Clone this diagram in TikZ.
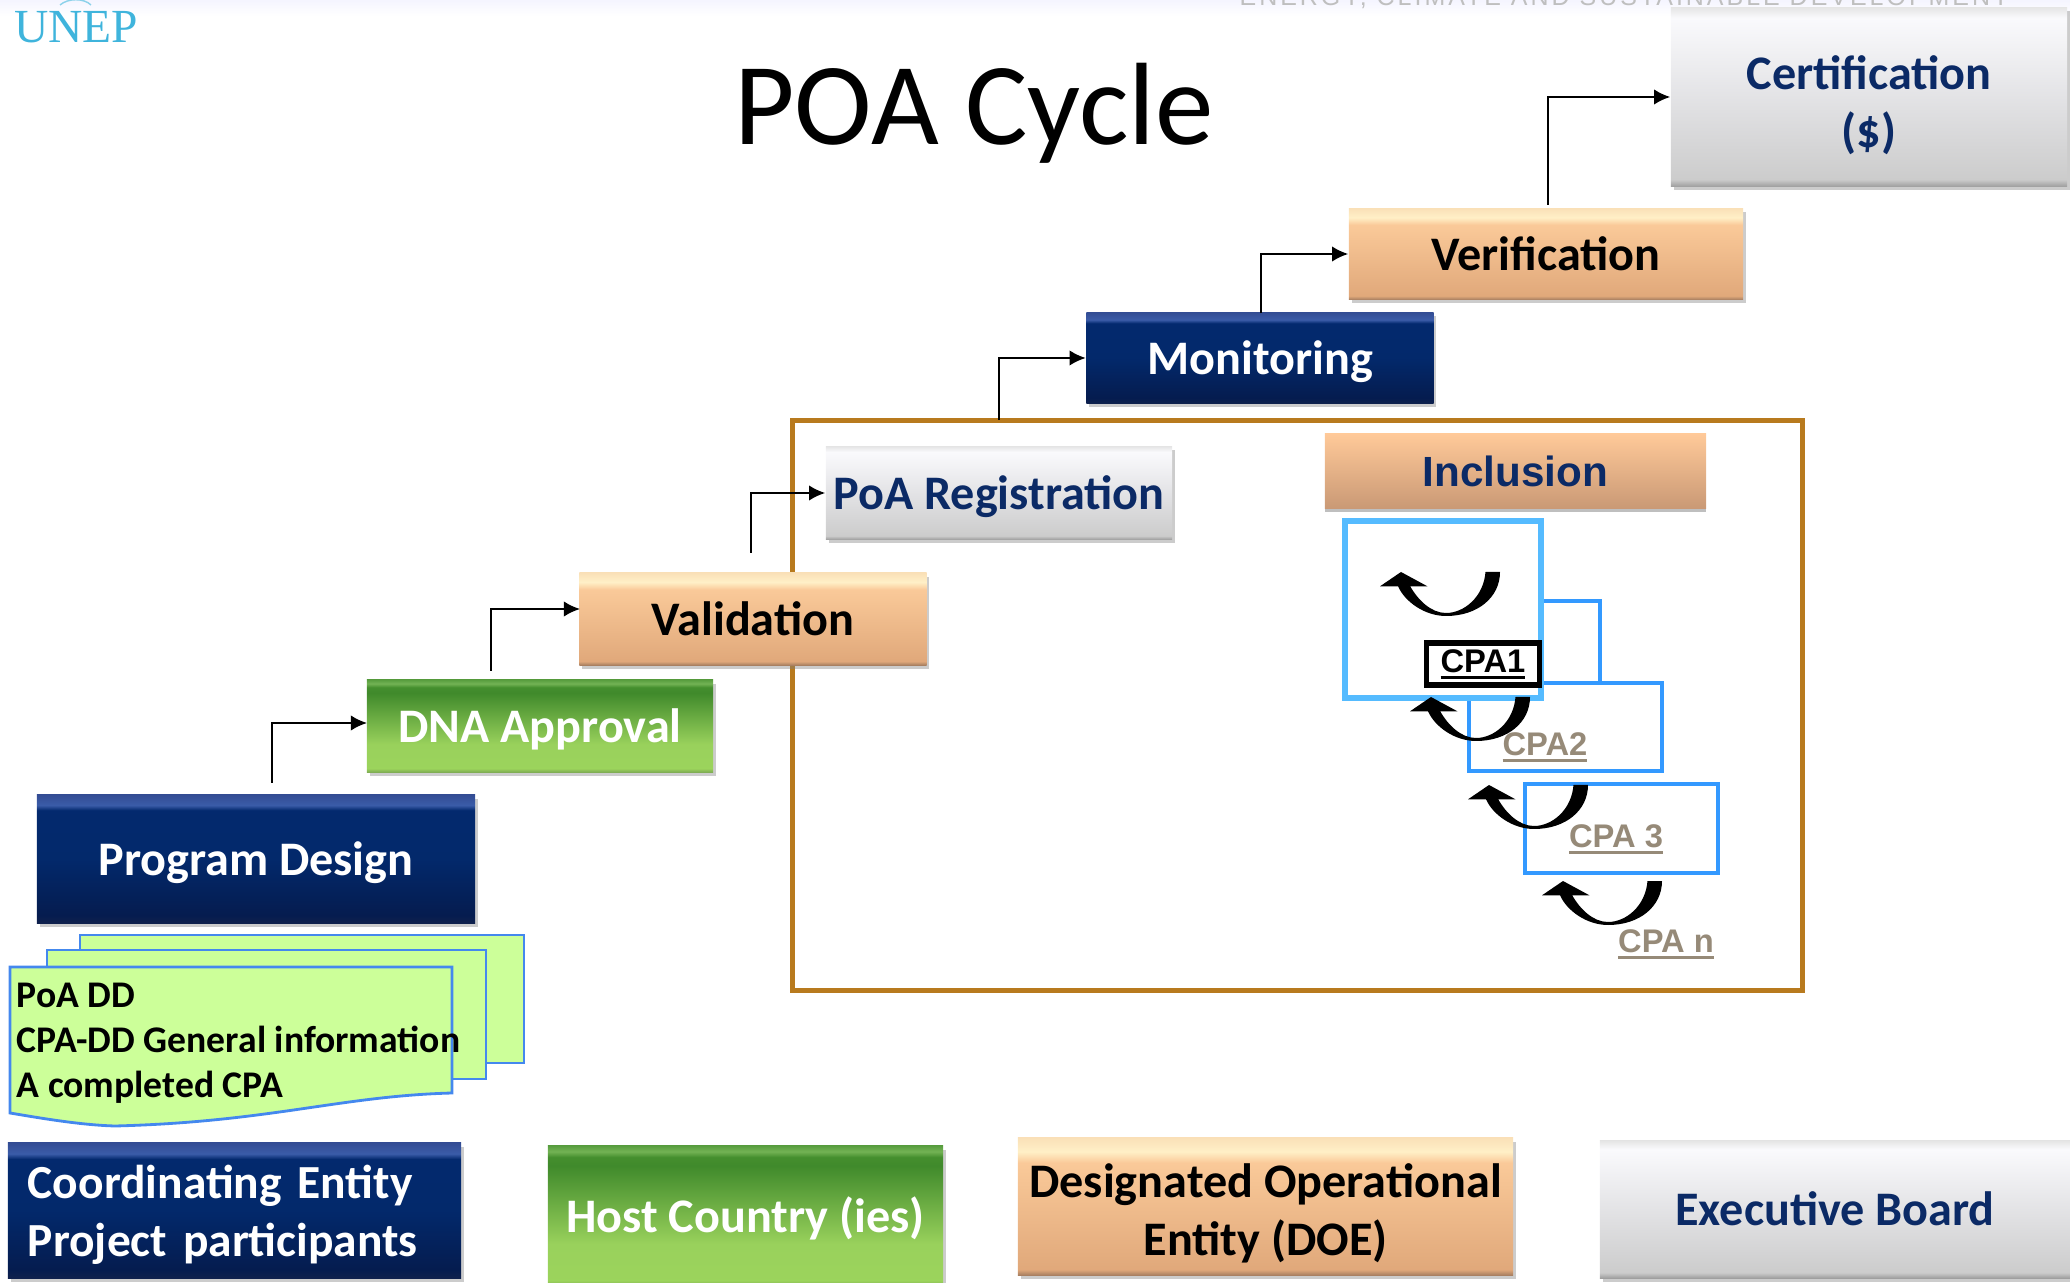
\documentclass[tikz,border=0pt]{standalone}
\usepackage{fontspec}
\usepackage{xcolor}
\setmainfont{Carlito}
\newfontfamily\arialfont{Liberation Sans}
\newfontfamily\timesfont{Liberation Serif}
\newfontfamily\bannerfont[LetterSpace=12]{Liberation Sans}
\usetikzlibrary{shadows,arrows.meta}

\definecolor{navytext}{HTML}{0B2A66}
\definecolor{cpagrey}{HTML}{968A78}
\definecolor{framebrown}{HTML}{B87A1E}
\definecolor{sheetgreen}{HTML}{CCFF99}
\definecolor{sheetblue}{HTML}{4488EE}
\definecolor{cpablue}{HTML}{3399FF}
\definecolor{cpalight}{HTML}{55BBFF}
\definecolor{logoblue}{HTML}{3FB4DC}

\newcommand{\cpaline}[1]{\setbox0\hbox{#1}\rlap{\rule[-1.9pt]{\wd0}{.8pt}}\box0}

\pgfdeclareverticalshading{navyshade}{100bp}{
	rgb(0bp)=(.06,.13,.30); rgb(25bp)=(.06,.13,.30); rgb(28bp)=(.02,.11,.31); rgb(50bp)=(.01,.16,.42);
	rgb(69bp)=(.01,.16,.43); rgb(71bp)=(.23,.36,.66); rgb(75bp)=(.20,.30,.58); rgb(100bp)=(.20,.30,.58)}
\pgfdeclareverticalshading{greenshade}{100bp}{
	rgb(0bp)=(.50,.68,.33); rgb(25bp)=(.50,.68,.33); rgb(27bp)=(.61,.83,.36); rgb(40bp)=(.60,.82,.36);
	rgb(68bp)=(.25,.54,.17); rgb(71bp)=(.27,.56,.18); rgb(73bp)=(.45,.70,.33); rgb(75bp)=(.35,.62,.25); rgb(100bp)=(.35,.62,.25)}
\pgfdeclareverticalshading{peachshade}{100bp}{
	rgb(0bp)=(.66,.50,.38); rgb(25bp)=(.66,.50,.38); rgb(27bp)=(.88,.66,.48);
	rgb(66bp)=(.98,.79,.60); rgb(70bp)=(1,.94,.78); rgb(75bp)=(.98,.88,.72); rgb(100bp)=(.98,.88,.72)}
\pgfdeclareverticalshading{flatpeachshade}{100bp}{
	rgb(0bp)=(.79,.60,.46); rgb(25bp)=(.79,.60,.46); rgb(75bp)=(1,.79,.60); rgb(100bp)=(1,.79,.60)}
\pgfdeclareverticalshading{silvershade}{100bp}{
	rgb(0bp)=(.62,.62,.62); rgb(25bp)=(.62,.62,.62); rgb(27bp)=(.80,.80,.80);
	rgb(50bp)=(.89,.89,.90); rgb(72bp)=(.98,.98,.99); rgb(75bp)=(.90,.90,.90); rgb(100bp)=(.90,.90,.90)}

\begin{document}
\begin{tikzpicture}[x=.01cm,y=-.01cm,
			stepbox/.style={shape=rectangle, inner sep=0pt, align=center,
				font=\fontsize{13.7}{16.5}\selectfont\bfseries,
				drop shadow={opacity=.4,shadow xshift=.8pt,shadow yshift=-1.1pt}},
			oneline/.style={text height=11.2pt, text depth=2pt},
			navybox/.style={stepbox, shade, shading=navyshade, text=white},
			greenbox/.style={stepbox, shade, shading=greenshade, text=white},
			peachbox/.style={stepbox, shade, shading=peachshade, text=black},
			silverbox/.style={stepbox, shade, shading=silvershade, text=navytext},
			elbow/.style={line width=.55pt, -{Latex[length=4.6pt,width=4.4pt]}},
			sheet/.style={draw=sheetblue, fill=sheetgreen, line width=.8pt},
			cpabox/.style={draw=cpablue, fill=white, line width=1pt},
			cpalabel/.style={font=\arialfont\fontsize{9.3}{11}\selectfont\bfseries, text=cpagrey, inner sep=0pt},
			crescent/.pic={
				\fill (0,0) -- (26.4,14.3) -- (9.2,14.3) .. controls (17,28) and (30,41) .. (45,41)
					.. controls (63,41) and (82.5,25) .. (84.5,0) -- (99,0)
					.. controls (99,25) and (77,44) .. (45,44)
					.. controls (24,44) and (4,30) .. (-3,14.3) -- (-21,14.3) -- cycle;
			}]
				\useasboundingbox (0,0) rectangle (2070,1283);
				\shade[top color=blue!4,bottom color=white] (0,0) rectangle (2070,16);

				\node[font=\timesfont\fontsize{13.5}{16}\selectfont, text=logoblue, inner sep=0pt] (logo) at (76,27) {UNEP};
				\draw[logoblue!60, line width=.4pt] (60,5) .. controls (68,-2) and (84,-2) .. (91,5);
				\node[font=\bannerfont\fontsize{7.1}{9}\selectfont, text=black!25, inner sep=0pt] (banner) at (1624,-2) {ENERGY, CLIMATE AND SUSTAINABLE DEVELOPMENT};
				\node[font=\fontsize{33.3}{40}\selectfont, inner sep=0pt] (title) at (974,113) {POA Cycle};

				\node[draw=framebrown, line width=1.4pt, minimum width=10.09cm, minimum height=5.69cm] (frame) at (1297.5,705.5) {};

				\node[silverbox, minimum width=3.96cm, minimum height=1.79cm] (cert) at (1869,97) {\rule{0pt}{14.5pt}Certification\\(\$)};
				\node[peachbox, oneline, minimum width=3.94cm, minimum height=.91cm] (verif) at (1546,254) {Verification};
				\node[navybox, oneline, minimum width=3.47cm, minimum height=.91cm] (monit) at (1260,358) {Monitoring};
				\node[silverbox, oneline, minimum width=3.46cm, minimum height=.93cm] (poareg) at (999,493) {PoA Registration};
				\node[peachbox, oneline, minimum width=3.47cm, minimum height=.92cm] (valid) at (753,619) {Validation};
				\node[greenbox, oneline, minimum width=3.46cm, minimum height=.92cm] (dna) at (540,726) {DNA Approval};
				\node[navybox, oneline, minimum width=4.38cm, minimum height=1.28cm] (design) at (256,859) {Program Design};

				\coordinate (designout) at (272,783);
				\coordinate (dnain) at (367,723);
				\coordinate (dnaout) at (491,671);
				\coordinate (validin) at (580,609);
				\coordinate (validout) at (751,553);
				\coordinate (frameout) at (999,420);
				\coordinate (monitout) at (1261,313);
				\coordinate (verifout) at (1548,205);

				\draw[elbow] (designout) |- (dnain);
				\draw[elbow] (dnaout) |- (validin);
				\draw[elbow] (validout) |- (poareg.west);
				\draw[elbow] (frameout) |- (monit.west);
				\draw[elbow] (monitout) |- (verif.west);
				\draw[elbow] (verifout) |- (cert.west);

				% inclusion side
				\node[shade, shading=flatpeachshade, minimum width=3.81cm, minimum height=.75cm, inner sep=0pt,
					font=\arialfont\fontsize{12}{14}\selectfont\bfseries, text=navytext,
					drop shadow={opacity=.5,shadow xshift=0pt,shadow yshift=-1pt}] (inclusion) at (1515.5,471) {Inclusion};

				\draw[cpabox] (1450,601) rectangle (1600,688);
				\draw[cpabox] (1469,683) rectangle (1662,771);
				\draw[cpabox] (1525,784) rectangle (1718,873);
				\draw[draw=cpalight, fill=white, line width=1.5pt] (1345,521) rectangle (1541,698);

				\node[draw=black, line width=1.5pt, fill=white, font=\arialfont\fontsize{9.3}{11}\selectfont\bfseries,
					minimum width=1.13cm, minimum height=.42cm, inner sep=0pt] (cpaone) at (1483,664) {\cpaline{CPA1}};
				\node[cpalabel] (cpatwo) at (1545,747) {\cpaline{CPA2}};
				\node[cpalabel] (cpathree) at (1616,839) {\cpaline{CPA 3}};
				\node[cpalabel] (cpan) at (1666,944) {\cpaline{CPA n}};

				\pic at (1401,572) {crescent};
				\pic at (1431,697) {crescent};
				\pic at (1489,785) {crescent};
				\pic at (1563,881) {crescent};

				% documents
				\draw[sheet] (80,935) rectangle (524,1063);
				\draw[sheet] (47,950) rectangle (486,1079);
				\draw[sheet] (10,967) -- (452,967) -- (452,1093) .. controls (340,1096) and (270,1122) .. (115,1126)
					.. controls (80,1125) and (40,1118) .. (10,1113) -- cycle;
				\node[anchor=north west, align=left, inner sep=0pt, font=\fontsize{10.7}{12.8}\selectfont\bfseries] (docs) at (16,982) {PoA DD\\CPA-DD General information\\A completed CPA};

				% legend
				\node[navybox, font=\fontsize{13.5}{16.5}\selectfont\bfseries, minimum width=4.53cm, minimum height=1.35cm, text width=4.13cm, align=left] (coord) at (234.5,1210.5) {\rule{0pt}{12.2pt}Coordinating Entity\\Project participants};
				\node[greenbox, oneline, minimum width=3.95cm, minimum height=1.4cm] (host) at (745.5,1216) {Host Country (ies)};
				\node[peachbox, minimum width=4.95cm, minimum height=1.37cm] (doe) at (1265.5,1206.5) {\rule{0pt}{13.8pt}Designated Operational\\Entity (DOE)};
				\node[silverbox, oneline, minimum width=4.7cm, minimum height=1.37cm] (board) at (1835,1209.5) {Executive Board};
\end{tikzpicture}
\end{document}
